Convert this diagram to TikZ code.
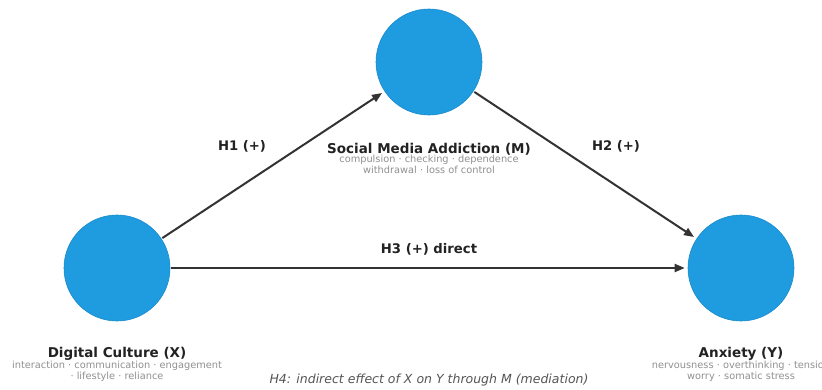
\documentclass[tikz,border=0pt]{standalone}
\usepackage{fontspec}
\setmainfont{DejaVu Sans}
\usetikzlibrary{arrows.meta}
\definecolor{nodeblue}{RGB}{31,155,224}
\definecolor{nodeedge}{RGB}{26,138,205}
\definecolor{arrowc}{RGB}{51,51,51}
\definecolor{labc}{RGB}{34,34,34}
\definecolor{subc}{RGB}{145,145,145}
\definecolor{notec}{RGB}{85,85,85}
\begin{document}
\begin{tikzpicture}[x=1pt,y=-1pt,
  var/.style={circle,fill=nodeblue,draw=nodeedge,line width=0.6pt,minimum size=106pt,inner sep=0pt},
  conn/.style={draw=arrowc,line width=2pt,-{Triangle[length=10pt,width=8pt]},shorten >=3pt,shorten <=1pt},
  title/.style={font=\fontsize{13.5}{15}\selectfont\bfseries,text=labc,inner sep=0pt},
  sub/.style={font=\fontsize{9.8}{11.3}\selectfont,text=subc,align=center,inner sep=0pt},
  hyp/.style={font=\fontsize{13.2}{15}\selectfont\bfseries,text=labc,inner sep=0pt},
  note/.style={font=\fontsize{12.5}{14}\selectfont\itshape,text=notec,inner sep=0pt}]
\useasboundingbox (0,0) rectangle (822,389);
\fill[white] (0,0) rectangle (822,389);
\node[var] (X) at (117,268) {};
\node[var] (M) at (429,62) {};
\node[var] (Y) at (741,268) {};
\draw[conn] (X) -- (M);
\draw[conn] (M) -- (Y);
\draw[conn] (X) -- (Y);
\node[hyp] (h1) at (242,146) {H1 (+)};
\node[hyp] (h2) at (616,146) {H2 (+)};
\node[hyp] (h3) at (429,249) {H3 (+) direct};
\node[title] (mt) at (429,149) {Social Media Addiction (M)};
\node[sub,anchor=north] (ms) at (429,155) {compulsion · checking · dependence\\withdrawal · loss of control};
\node[title] (xt) at (117,354) {Digital Culture (X)};
\node[sub,anchor=north] (xs) at (117,361) {interaction · communication · engagement\\· lifestyle · reliance};
\node[title] (yt) at (741,354) {Anxiety (Y)};
\node[sub,anchor=north] (ys) at (741,361) {nervousness · overthinking · tension\\worry · somatic stress};
\node[note] (h4) at (429,380) {H4: indirect effect of X on Y through M (mediation)};
\end{tikzpicture}
\end{document}
